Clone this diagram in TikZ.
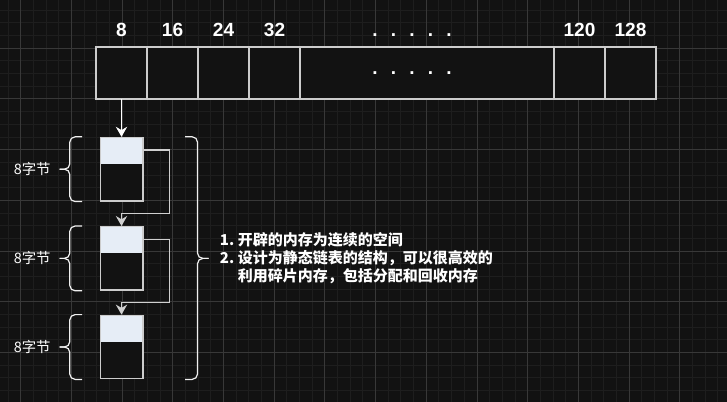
\documentclass[tikz,border=0pt]{standalone}
\usepackage{fontspec}
\setmainfont{Liberation Sans}
\newfontfamily\cjk{Noto Sans CJK SC}
\usepackage{tikz}
\usetikzlibrary{arrows.meta,positioning,calc}
\definecolor{bgcol}{HTML}{121212}
\definecolor{gridminor}{HTML}{1E1E1E}
\definecolor{gridmajor}{HTML}{383838}
\definecolor{cellline}{HTML}{CCCCCC}
\definecolor{cellfill}{HTML}{121212}
\definecolor{headfill}{HTML}{E6EDF6}
\definecolor{linkcol}{HTML}{D0D0D0}
\newcommand{\gapdots}{.\hskip9.9pt.\hskip9.9pt.\hskip9.9pt.\hskip9.9pt.}
\tikzset{
  cellbox/.style={draw=cellline, fill=cellfill, line width=1pt, minimum width=38.25pt, minimum height=39pt, inner sep=0pt, outer sep=0pt},
  blockbox/.style={draw=cellline, fill=cellfill, line width=1pt, minimum width=32pt, minimum height=47.6pt, inner sep=0pt,
    path picture={\fill[headfill] (path picture bounding box.north west) rectangle ([yshift=-19.9pt]path picture bounding box.north east);}},
  numlab/.style={font=\bfseries\fontsize{14.3}{17}\selectfont, text=white, inner sep=0pt},
  sizelab/.style={font=\cjk\fontsize{10.8}{13}\selectfont, text=white, inner sep=0pt},
  notetext/.style={font=\cjk\bfseries\fontsize{11.25}{13.5}\selectfont, text=white, align=left, inner sep=0pt},
  bracket/.style={draw=white!94!black, line width=0.9pt, rounded corners=4pt},
  firstlink/.style={draw=white, line width=1pt, -{Stealth[length=7.5pt, width=8.5pt, inset=2.5pt]}},
  link/.style={draw=linkcol, line width=1pt, -{Stealth[length=7.5pt, width=8.5pt, inset=2.5pt]}},
}

\begin{document}
\begin{tikzpicture}[x=0.75pt, y=-0.75pt]
  % background and grid
  \fill[bgcol] (0,0) rectangle (727,402);
  \useasboundingbox (0,0) rectangle (727,402);
  \foreach \i in {-1,...,56}
    \draw[gridminor, line width=0.75pt] ({20.7+12.675*\i},0) -- ({20.7+12.675*\i},402);
  \foreach \j in {-4,...,28}
    \draw[gridminor, line width=0.75pt] (0,{48.3+12.675*\j}) -- (727,{48.3+12.675*\j});
  \foreach \i in {0,...,14}
    \draw[gridmajor, line width=0.75pt] ({20.7+50.7*\i},0) -- ({20.7+50.7*\i},402);
  \foreach \j in {-1,...,7}
    \draw[gridmajor, line width=0.75pt] (0,{48.3+50.7*\j}) -- (727,{48.3+50.7*\j});

  % size classes
  \foreach \n/\x in {1/121.5,2/172.5,3/223.5,4/274.5,6/579.5,7/630.5}
    \node[cellbox] (cell\n) at (\x,73) {};
  \node[cellbox, minimum width=190.5pt] (cellmid) at (427,73) {};
  \node[numlab] (middots) at ($(cellmid)+(-15,0)$) {\gapdots};

  \foreach \n/\t in {1/8,2/16,3/24,4/32,6/120,7/128}
    \node[numlab, above=7.7pt of cell\n] (num\n) {\t};
  \node[numlab, above=7.7pt of cellmid, xshift=-11.25pt] (topdots) {\gapdots};

  % free list blocks
  \foreach \n/\y in {1/169.2,2/258.4,3/347}
    \node[blockbox] (blk\n) at (121.5,\y) {};

  \draw[firstlink] (cell1.south) -- (blk1.north);
  \foreach \n/\m in {1/2,2/3} {
    \coordinate (out\n) at ([yshift=-10pt]blk\n.north east);
    \coordinate (turn\n) at ([yshift=9.3pt]blk\m.north);
    \draw[link] (out\n) -- ++(26,0) |- (turn\n) -- (blk\m.north);
  }

  % left brackets
  \foreach \n in {1,2,3} {
    \coordinate (ltip\n) at ($(blk\n.west)+(-40,0)$);
    \draw[bracket] ($(blk\n.north west)+(-17.4,0)$) -| ($(blk\n.west)+(-29.7,0)$) -- (ltip\n);
    \draw[bracket] ($(blk\n.south west)+(-17.4,0)$) -| ($(blk\n.west)+(-29.7,0)$) -- (ltip\n);
    \node[sizelab, left=6.5pt of ltip\n] (size\n) {8字节};
  }

  % right bracket and note
  \coordinate (rtip) at ($(blk2.east)+(65,0)$);
  \draw[bracket] ($(blk1.north east)+(41.5,0)$) -| ($(blk2.east)+(54,0)$) -- (rtip);
  \draw[bracket] ($(blk3.south east)+(41.5,0)$) -| ($(blk2.east)+(54,0)$) -- (rtip);
  \node[notetext, right=8.4pt of rtip] (note) {1.~开辟的内存为连续的空间\\2.~设计为静态链表的结构，可以很高效的\\\phantom{2.~}利用碎片内存，包括分配和回收内存};
\end{tikzpicture}
\end{document}
